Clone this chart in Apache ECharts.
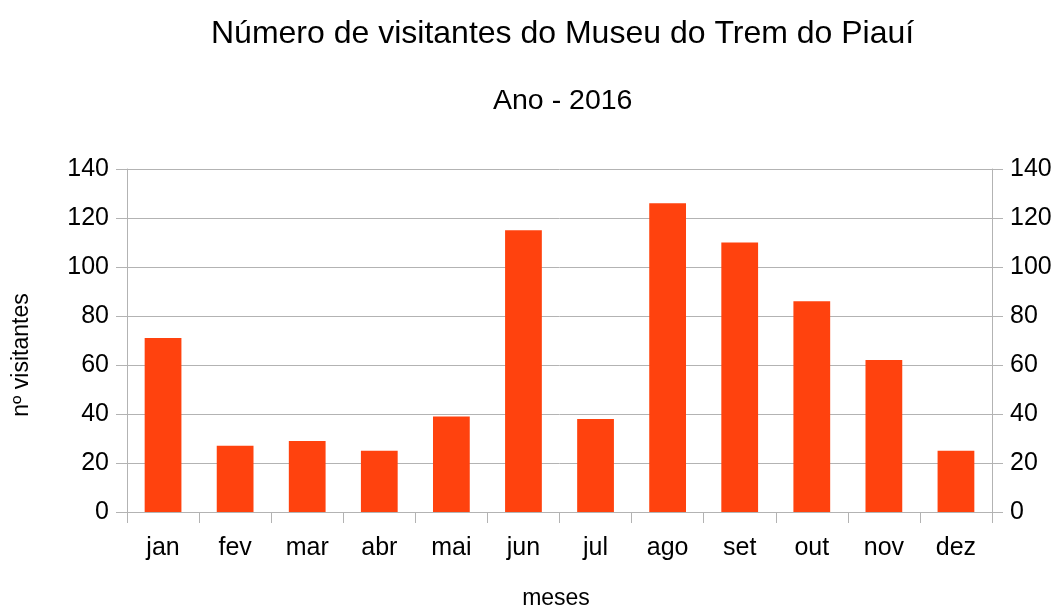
<!DOCTYPE html>
<html>
<head>
<meta charset="utf-8">
<script src="https://cdn.jsdelivr.net/npm/echarts@6/dist/echarts.min.js"></script>
<style>
  html, body { margin: 0; padding: 0; background: #fff; }
  #chart { width: 1055px; height: 611px; }
</style>
</head>
<body>
<div id="chart"></div>
<script>
// dados
const meses = ['jan', 'fev', 'mar', 'abr', 'mai', 'jun', 'jul', 'ago', 'set', 'out', 'nov', 'dez'];
const visitantes = [71, 27, 29, 25, 39, 115, 38, 126, 110, 86, 62, 25];
const yTicks = [0, 20, 40, 60, 80, 100, 120, 140];

const fonte = '"Liberation Sans", Arial, sans-serif';
const cinza = '#b3b3b3';

const chart = echarts.init(document.getElementById('chart'));

function eixoY(pos, grade) {
  return {
    type: 'value',
    position: pos,
    min: yTicks[0],
    max: yTicks[yTicks.length - 1],
    interval: yTicks[1] - yTicks[0],
    axisLine: { show: true, lineStyle: { color: cinza, width: 1 } },
    axisTick: { show: true, length: 11, lineStyle: { color: cinza } },
    axisLabel: { color: '#000', fontFamily: fonte, fontSize: 25, margin: 18 },
    splitLine: { show: grade, lineStyle: { color: cinza, width: 1 } }
  };
}

chart.setOption({
  animation: false,
  title: [{
    text: 'Número de visitantes do Museu do Trem do Piauí',
    left: 206,
    top: 13,
    textStyle: { color: '#000', fontFamily: fonte, fontSize: 32, fontWeight: 'normal' }
  }, {
    text: 'Ano - 2016',
    left: 488,
    top: 82,
    textStyle: { color: '#000', fontFamily: fonte, fontSize: 28.5, fontWeight: 'normal' }
  }],
  grid: { left: 127, right: 63, top: 169, bottom: 99, containLabel: false, outerBoundsMode: 'none' },
  xAxis: {
    type: 'category',
    data: meses,
    boundaryGap: true,
    name: 'meses',
    nameLocation: 'middle',
    nameGap: 75,
    nameTextStyle: { color: '#000', fontFamily: fonte, fontSize: 23, letterSpacing: 0.5, padding: [0, 7, 0, 0] },
    axisLine: { show: true, lineStyle: { color: cinza, width: 1 } },
    axisTick: { show: true, interval: 0, length: 11, lineStyle: { color: cinza } },
    axisLabel: { color: '#000', fontFamily: fonte, fontSize: 25, margin: 24, interval: 0 },
    splitLine: { show: false }
  },
  yAxis: [eixoY('left', true), eixoY('right', false)],
  graphic: [{
    type: 'text',
    x: 22,
    y: 355,
    rotation: Math.PI / 2,
    style: {
      text: 'nº visitantes',
      fill: '#000',
      font: '23px "Liberation Sans", Arial, sans-serif',
      align: 'center',
      verticalAlign: 'middle'
    }
  }],
  series: [{
    type: 'bar',
    data: visitantes,
    barWidth: '51%',
    itemStyle: { color: '#ff420e' }
  }]
});
</script>
</body>
</html>
